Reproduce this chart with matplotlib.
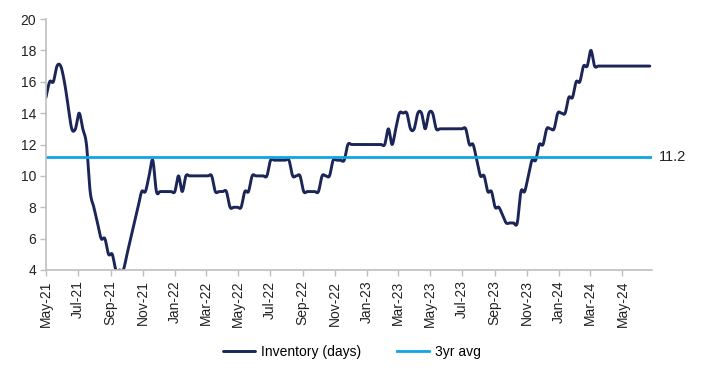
import numpy as np
import pandas as pd
import matplotlib
matplotlib.use("Agg")
from matplotlib import pyplot as plt
import matplotlib.dates as mdates

plt.rcParams['font.family'] = ['Liberation Sans', 'DejaVu Sans']

# weekly inventory (days)
start = "2021-05-01"
inventory = [
    15, 16, 16, 17, 17, 16, 14.5, 13, 13, 14,
    13, 12, 9, 8, 7, 6, 6, 5, 5, 4,
    4, 4, 5, 6, 7, 8, 9, 9, 10, 11,
    9, 9, 9, 9, 9, 9, 10, 9, 10, 10,
    10, 10, 10, 10, 10, 10, 9, 9, 9, 9,
    8, 8, 8, 8, 9, 9, 10, 10, 10, 10,
    10, 11, 11, 11, 11, 11, 11, 10, 10, 10,
    9, 9, 9, 9, 9, 10, 10, 10, 11, 11,
    11, 11, 12, 12, 12, 12, 12, 12, 12, 12,
    12, 12, 12, 13, 12, 13, 14, 14, 14, 13,
    13, 14, 14, 13, 14, 14, 13, 13, 13, 13,
    13, 13, 13, 13, 13, 12, 12, 11, 10, 10,
    9, 9, 8, 8, 7.5, 7, 7, 7, 7, 9,
    9, 10, 11, 11, 12, 12, 13, 13, 13, 14,
    14, 14, 15, 15, 16, 16, 17, 17, 18, 17,
    17, 17, 17, 17, 17, 17, 17, 17, 17, 17,
    17, 17, 17, 17, 17,
]
avg_3yr = 11.2

dates = pd.date_range(start, periods=len(inventory), freq="7D")


def smooth(x, y, n=12):
    # Excel-style smoothed line (Catmull-Rom through the points)
    x = np.asarray(x, float)
    y = np.asarray(y, float)
    px = np.concatenate([[x[0]], x, [x[-1]]])
    py = np.concatenate([[y[0]], y, [y[-1]]])
    t = np.linspace(0, 1, n, endpoint=False)[:, None]
    xs, ys = [], []
    for i in range(1, len(px) - 2):
        p0, p1, p2, p3 = (np.array([px[j], py[j]]) for j in range(i - 1, i + 3))
        c1 = p1 + (p2 - p0) / 6
        c2 = p2 - (p3 - p1) / 6
        pts = ((1 - t) ** 3 * p1 + 3 * (1 - t) ** 2 * t * c1
               + 3 * (1 - t) * t ** 2 * c2 + t ** 3 * p2)
        xs.append(pts[:, 0])
        ys.append(pts[:, 1])
    xs.append([x[-1]])
    ys.append([y[-1]])
    return np.concatenate(xs), np.concatenate(ys)


xnum = mdates.date2num(dates)
sx, sy = smooth(xnum, inventory)

fig = plt.figure(figsize=(7.04, 3.69), dpi=100)
ax = fig.add_axes([0.0653, 0.2683, 0.8607, 0.6802])

navy = "#1b2557"
blue = "#12a3e3"

ax.plot(sx, sy, color=navy, lw=2.1, label="Inventory (days)", solid_capstyle="round")
x0 = mdates.date2num(pd.Timestamp("2021-05-01"))
x1 = mdates.date2num(pd.Timestamp("2024-06-26"))
ax.plot([x0, x1], [avg_3yr, avg_3yr], color=blue, lw=2.0, label="3yr avg")
ax.text(x1 + 13, avg_3yr, f"{avg_3yr:.1f}", fontsize=10.5, va="center", ha="left", color="#222222")

ax.set_xlim(x0, x1)
ax.set_ylim(4, 20)
ax.set_yticks(np.arange(4, 21, 2))

ticks = pd.date_range("2021-05-01", "2024-05-01", freq="2MS")
ax.set_xticks(mdates.date2num(ticks))
ax.set_xticklabels([d.strftime("%b-%y") for d in ticks], rotation=90)

for s in ["top", "right"]:
    ax.spines[s].set_visible(False)
for s in ["left", "bottom"]:
    ax.spines[s].set_color("#bfbfbf")
    ax.spines[s].set_linewidth(1.2)
ax.tick_params(axis="both", colors="#bfbfbf", labelcolor="#222222", labelsize=10,
               length=4, width=1)
ax.tick_params(axis="y", pad=3)

fig.legend(loc="center", bbox_to_anchor=(0.5, 0.046), ncol=2, frameon=False,
           fontsize=10, handlelength=2.3, handletextpad=0.4, columnspacing=2.6)

fig.savefig("out.png", dpi=100)
